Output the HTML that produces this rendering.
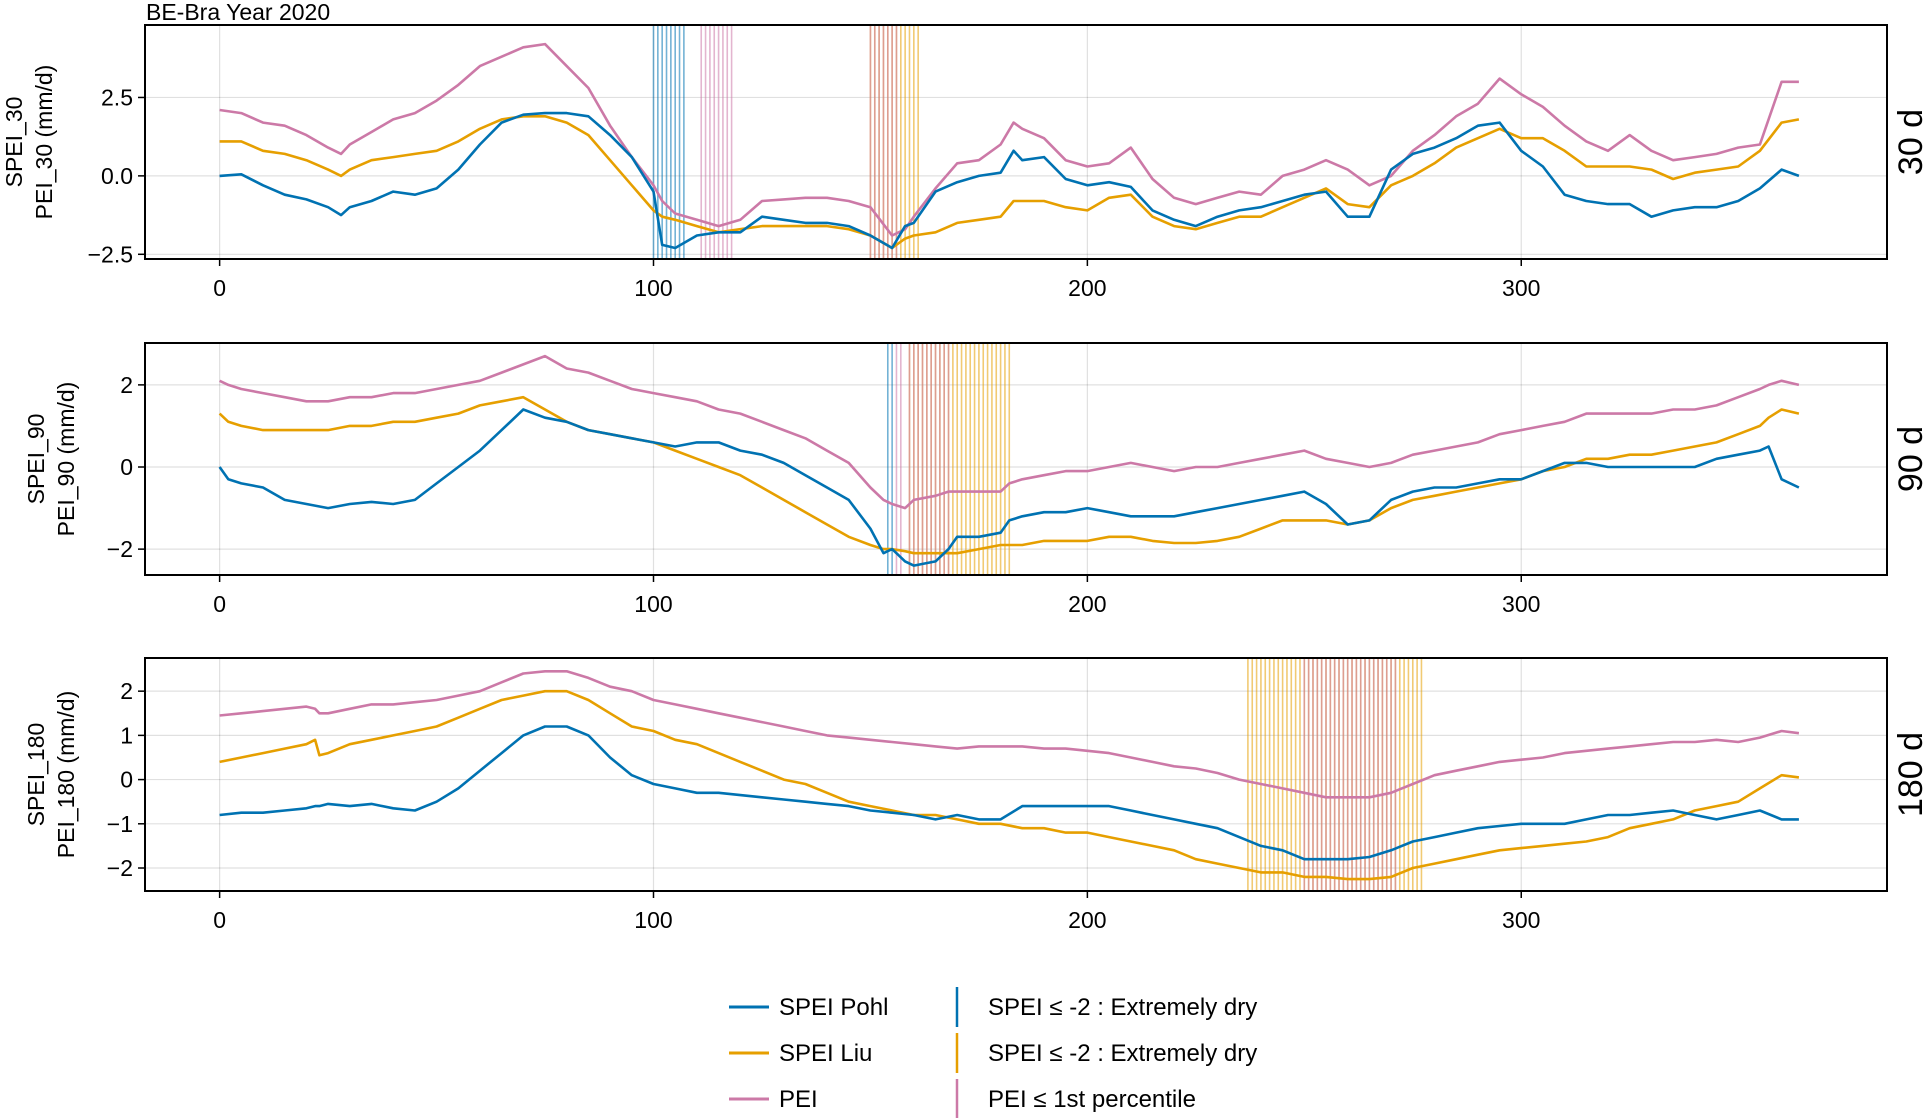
<!DOCTYPE html>
<html><head><meta charset="utf-8"><style>
html,body{margin:0;padding:0;background:#fff;}
svg{display:block;font-family:"Liberation Sans",sans-serif;}
</style></head><body>
<svg id="chart" width="1925" height="1118" viewBox="0 0 1925 1118" xmlns="http://www.w3.org/2000/svg">
<text x="146" y="20" font-size="23">BE-Bra Year 2020</text>
<g id="panels"></g>
<g>
 <line x1="729" x2="769" y1="1007" y2="1007" stroke="#0072b2" stroke-width="3"/>
 <text x="779" y="1015" font-size="24">SPEI Pohl</text>
 <line x1="729" x2="769" y1="1053" y2="1053" stroke="#e69f00" stroke-width="3"/>
 <text x="779" y="1061" font-size="24">SPEI Liu</text>
 <line x1="729" x2="769" y1="1099" y2="1099" stroke="#cc79a7" stroke-width="3"/>
 <text x="779" y="1107" font-size="24">PEI</text>
 <line x1="957" x2="957" y1="987" y2="1027" stroke="#0072b2" stroke-width="2.5"/>
 <text x="988" y="1015" font-size="24">SPEI ≤ -2 : Extremely dry</text>
 <line x1="957" x2="957" y1="1033" y2="1073" stroke="#e69f00" stroke-width="2.5"/>
 <text x="988" y="1061" font-size="24">SPEI ≤ -2 : Extremely dry</text>
 <line x1="957" x2="957" y1="1079" y2="1119" stroke="#cc79a7" stroke-width="2.5"/>
 <text x="988" y="1107" font-size="24">PEI ≤ 1st percentile</text>
</g>
</svg>
<script>
const days1=[0,5,10,15,20,25,28,30,35,40,45,50,55,60,65,70,75,80,85,90,95,100,102,105,110,115,120,125,130,135,140,145,150,155,158,160,165,170,175,180,183,185,190,195,200,205,210,215,220,225,230,235,240,245,250,255,260,265,270,275,280,285,290,295,300,305,310,315,320,325,330,335,340,345,350,355,360,364];
const pohl30=[0,0.05,-0.3,-0.6,-0.75,-1.0,-1.25,-1.0,-0.8,-0.5,-0.6,-0.4,0.2,1.0,1.7,1.95,2.0,2.0,1.9,1.3,0.6,-0.5,-2.2,-2.3,-1.9,-1.8,-1.8,-1.3,-1.4,-1.5,-1.5,-1.6,-1.9,-2.3,-1.6,-1.5,-0.5,-0.2,0,0.1,0.8,0.5,0.6,-0.1,-0.3,-0.2,-0.35,-1.1,-1.4,-1.6,-1.3,-1.1,-1.0,-0.8,-0.6,-0.5,-1.3,-1.3,0.2,0.7,0.9,1.2,1.6,1.7,0.8,0.3,-0.6,-0.8,-0.9,-0.9,-1.3,-1.1,-1.0,-1.0,-0.8,-0.4,0.2,0.0];
const liu30=[1.1,1.1,0.8,0.7,0.5,0.2,0.0,0.2,0.5,0.6,0.7,0.8,1.1,1.5,1.8,1.9,1.9,1.7,1.3,0.5,-0.3,-1.1,-1.3,-1.4,-1.6,-1.8,-1.7,-1.6,-1.6,-1.6,-1.6,-1.7,-1.9,-2.3,-2.0,-1.9,-1.8,-1.5,-1.4,-1.3,-0.8,-0.8,-0.8,-1.0,-1.1,-0.7,-0.6,-1.3,-1.6,-1.7,-1.5,-1.3,-1.3,-1.0,-0.7,-0.4,-0.9,-1.0,-0.3,0.0,0.4,0.9,1.2,1.5,1.2,1.2,0.8,0.3,0.3,0.3,0.2,-0.1,0.1,0.2,0.3,0.8,1.7,1.8];
const pei30=[2.1,2.0,1.7,1.6,1.3,0.9,0.7,1.0,1.4,1.8,2.0,2.4,2.9,3.5,3.8,4.1,4.2,3.5,2.8,1.6,0.6,-0.3,-0.8,-1.2,-1.4,-1.6,-1.4,-0.8,-0.75,-0.7,-0.7,-0.8,-1.0,-1.9,-1.7,-1.3,-0.4,0.4,0.5,1.0,1.7,1.5,1.2,0.5,0.3,0.4,0.9,-0.1,-0.7,-0.9,-0.7,-0.5,-0.6,0.0,0.2,0.5,0.2,-0.3,0.0,0.8,1.3,1.9,2.3,3.1,2.6,2.2,1.6,1.1,0.8,1.3,0.8,0.5,0.6,0.7,0.9,1.0,3.0,3.0];

const days2=[0,2,5,10,15,20,25,30,35,40,45,50,55,60,65,70,75,80,85,90,95,100,105,110,115,120,125,130,135,140,145,150,153,155,158,160,165,168,170,175,180,182,185,190,195,200,205,210,215,220,225,230,235,240,245,250,255,260,265,270,275,280,285,290,295,300,305,310,315,320,325,330,335,340,345,350,355,357,360,364];
const pohl90=[0,-0.3,-0.4,-0.5,-0.8,-0.9,-1.0,-0.9,-0.85,-0.9,-0.8,-0.4,0.0,0.4,0.9,1.4,1.2,1.1,0.9,0.8,0.7,0.6,0.5,0.6,0.6,0.4,0.3,0.1,-0.2,-0.5,-0.8,-1.5,-2.1,-2.0,-2.3,-2.4,-2.3,-2.0,-1.7,-1.7,-1.6,-1.3,-1.2,-1.1,-1.1,-1.0,-1.1,-1.2,-1.2,-1.2,-1.1,-1.0,-0.9,-0.8,-0.7,-0.6,-0.9,-1.4,-1.3,-0.8,-0.6,-0.5,-0.5,-0.4,-0.3,-0.3,-0.1,0.1,0.1,0.0,0.0,0.0,0.0,0.0,0.2,0.3,0.4,0.5,-0.3,-0.5];
const liu90=[1.3,1.1,1.0,0.9,0.9,0.9,0.9,1.0,1.0,1.1,1.1,1.2,1.3,1.5,1.6,1.7,1.4,1.1,0.9,0.8,0.7,0.6,0.4,0.2,0.0,-0.2,-0.5,-0.8,-1.1,-1.4,-1.7,-1.9,-2.0,-2.0,-2.05,-2.1,-2.1,-2.1,-2.1,-2.0,-1.9,-1.9,-1.9,-1.8,-1.8,-1.8,-1.7,-1.7,-1.8,-1.85,-1.85,-1.8,-1.7,-1.5,-1.3,-1.3,-1.3,-1.4,-1.3,-1.0,-0.8,-0.7,-0.6,-0.5,-0.4,-0.3,-0.1,0.0,0.2,0.2,0.3,0.3,0.4,0.5,0.6,0.8,1.0,1.2,1.4,1.3];
const pei90=[2.1,2.0,1.9,1.8,1.7,1.6,1.6,1.7,1.7,1.8,1.8,1.9,2.0,2.1,2.3,2.5,2.7,2.4,2.3,2.1,1.9,1.8,1.7,1.6,1.4,1.3,1.1,0.9,0.7,0.4,0.1,-0.5,-0.8,-0.9,-1.0,-0.8,-0.7,-0.6,-0.6,-0.6,-0.6,-0.4,-0.3,-0.2,-0.1,-0.1,0.0,0.1,0.0,-0.1,0.0,0.0,0.1,0.2,0.3,0.4,0.2,0.1,0.0,0.1,0.3,0.4,0.5,0.6,0.8,0.9,1.0,1.1,1.3,1.3,1.3,1.3,1.4,1.4,1.5,1.7,1.9,2.0,2.1,2.0];

const days3=[0,5,10,15,20,22,23,25,30,35,40,45,50,55,60,65,70,75,80,85,90,95,100,105,110,115,120,125,130,135,140,145,150,155,160,165,170,175,180,185,190,195,200,205,210,215,220,225,230,235,240,245,250,255,260,265,270,275,280,285,290,295,300,305,310,315,320,325,330,335,340,345,350,355,360,364];
const pohl180=[-0.8,-0.75,-0.75,-0.7,-0.65,-0.6,-0.6,-0.55,-0.6,-0.55,-0.65,-0.7,-0.5,-0.2,0.2,0.6,1.0,1.2,1.2,1.0,0.5,0.1,-0.1,-0.2,-0.3,-0.3,-0.35,-0.4,-0.45,-0.5,-0.55,-0.6,-0.7,-0.75,-0.8,-0.9,-0.8,-0.9,-0.9,-0.6,-0.6,-0.6,-0.6,-0.6,-0.7,-0.8,-0.9,-1.0,-1.1,-1.3,-1.5,-1.6,-1.8,-1.8,-1.8,-1.75,-1.6,-1.4,-1.3,-1.2,-1.1,-1.05,-1.0,-1.0,-1.0,-0.9,-0.8,-0.8,-0.75,-0.7,-0.8,-0.9,-0.8,-0.7,-0.9,-0.9];
const liu180=[0.4,0.5,0.6,0.7,0.8,0.9,0.55,0.6,0.8,0.9,1.0,1.1,1.2,1.4,1.6,1.8,1.9,2.0,2.0,1.8,1.5,1.2,1.1,0.9,0.8,0.6,0.4,0.2,0.0,-0.1,-0.3,-0.5,-0.6,-0.7,-0.8,-0.8,-0.9,-1.0,-1.0,-1.1,-1.1,-1.2,-1.2,-1.3,-1.4,-1.5,-1.6,-1.8,-1.9,-2.0,-2.1,-2.1,-2.2,-2.2,-2.25,-2.25,-2.2,-2.0,-1.9,-1.8,-1.7,-1.6,-1.55,-1.5,-1.45,-1.4,-1.3,-1.1,-1.0,-0.9,-0.7,-0.6,-0.5,-0.2,0.1,0.05];
const pei180=[1.45,1.5,1.55,1.6,1.65,1.6,1.5,1.5,1.6,1.7,1.7,1.75,1.8,1.9,2.0,2.2,2.4,2.45,2.45,2.3,2.1,2.0,1.8,1.7,1.6,1.5,1.4,1.3,1.2,1.1,1.0,0.95,0.9,0.85,0.8,0.75,0.7,0.75,0.75,0.75,0.7,0.7,0.65,0.6,0.5,0.4,0.3,0.25,0.15,0.0,-0.1,-0.2,-0.3,-0.4,-0.4,-0.4,-0.3,-0.1,0.1,0.2,0.3,0.4,0.45,0.5,0.6,0.65,0.7,0.75,0.8,0.85,0.85,0.9,0.85,0.95,1.1,1.05];

const pohlDry30=[100,101,102,103,104,105,106,107];
const liuDry30=[150,151,152,153,154,155,156,157,158,159,160,161];
const peiLow30=[111,112,113,114,115,116,117,118,150,151,152,153,154,155,156];
const pohlDry90=[154,155];
const liuDry90=[159,160,161,162,163,164,165,166,167,168,169,170,171,172,173,174,175,176,177,178,179,180,181,182];
const peiLow90=[156,157,159,160,161,162,163,164,165,166,167,168];
const pohlDry180=[];
const liuDry180=[237,238,239,240,241,242,243,244,245,246,247,248,249,250,251,252,253,254,255,256,257,258,259,260,261,262,263,264,265,266,267,268,269,270,271,272,273,274,275,276,277];
const peiLow180=[250,251,252,253,254,255,256,257,258,259,260,261,262,263,264,265,266,267,268,269,270,271];

const xTicks=[0,100,200,300];
const yTicks1=[-2.5,0,2.5], yLabels1=["−2.5","0.0","2.5"];
const yTicks2=[-2,0,2], yLabels2=["−2","0","2"];
const yTicks3=[-2,-1,0,1,2], yLabels3=["−2","−1","0","1","2"];

const NS="http://www.w3.org/2000/svg";
const root=document.getElementById('panels');
const L=145,R=1887,XMIN=-17.2,XMAX=384.3;
function xs(d){return L+(d-XMIN)/(XMAX-XMIN)*(R-L);}
function mk(tag,attrs,parent){const e=document.createElementNS(NS,tag);for(const k in attrs)e.setAttribute(k,attrs[k]);parent.appendChild(e);return e;}

const panels=[
 {id:'30',top:25,bot:259,vmin:-2.65,vmax:4.81,yt:yTicks1,yl:yLabels1,l1:'SPEI_30',l2:'PEI_30 (mm/d)',ax1:22,ax2:52,days:days1,p:pohl30,l:liu30,e:pei30,hp:pohlDry30,hl:liuDry30,he:peiLow30},
 {id:'90',top:343,bot:575,vmin:-2.63,vmax:3.02,yt:yTicks2,yl:yLabels2,l1:'SPEI_90',l2:'PEI_90 (mm/d)',ax1:44,ax2:74,days:days2,p:pohl90,l:liu90,e:pei90,hp:pohlDry90,hl:liuDry90,he:peiLow90},
 {id:'180',top:658,bot:891,vmin:-2.52,vmax:2.75,yt:yTicks3,yl:yLabels3,l1:'SPEI_180',l2:'PEI_180 (mm/d)',ax1:44,ax2:74,days:days3,p:pohl180,l:liu180,e:pei180,hp:pohlDry180,hl:liuDry180,he:peiLow180}
];
panels.forEach(P=>{
 const ys=v=>P.bot-(v-P.vmin)/(P.vmax-P.vmin)*(P.bot-P.top);
 const g=mk('g',{},root);
 
 
 xTicks.forEach(t=>{const ln=mk('line',{x1:xs(t),x2:xs(t),y1:P.top,y2:P.bot,stroke:'#000','stroke-opacity':0.12,'stroke-width':1.2},g);
  
  const tk=mk('line',{x1:xs(t),x2:xs(t),y1:P.bot,y2:P.bot+7,stroke:'#000','stroke-width':1.5},g);
  
  const tx=mk('text',{x:xs(t),y:P.bot+37,'font-size':23,'text-anchor':'middle'},g);tx.textContent=t;
  });
 P.yt.forEach((t,i)=>{const y=ys(t);
  const ln=mk('line',{x1:L,x2:R,y1:y,y2:y,stroke:'#000','stroke-opacity':0.12,'stroke-width':1.2},g);
  
  const tk=mk('line',{x1:L-7,x2:L,y1:y,y2:y,stroke:'#000','stroke-width':1.5},g);
  
  const tx=mk('text',{x:L-12,y:y+8,'font-size':23,'text-anchor':'end'},g);tx.textContent=P.yl[i];
  });
 [[P.hl,'#e69f00'],[P.he,'#cc79a7'],[P.hp,'#0072b2']].forEach(([arr,c])=>arr.forEach(d=>{
  const ln=mk('line',{x1:xs(d),x2:xs(d),y1:P.top,y2:P.bot,stroke:c,'stroke-opacity':0.55,'stroke-width':1.6},g);
  }));
 [[P.l,'#e69f00','liu'],[P.e,'#cc79a7','pei'],[P.p,'#0072b2','pohl']].forEach(([vals,c,n])=>{
  const pts=P.days.map((d,i)=>xs(d).toFixed(1)+','+ys(vals[i]).toFixed(1)).join(' ');
  const pl=mk('polyline',{points:pts,fill:'none',stroke:c,'stroke-width':2.6,'stroke-linejoin':'round'},g);
  });
 const fr=mk('rect',{x:L,y:P.top,width:R-L,height:P.bot-P.top,fill:'none',stroke:'#000','stroke-width':2},g);
 
 const cy=(P.top+P.bot)/2;
 const t1=mk('text',{transform:`translate(${P.ax1},${cy}) rotate(-90)`,'font-size':23,'text-anchor':'middle'},g);t1.textContent=P.l1;
 
 const t2=mk('text',{transform:`translate(${P.ax2},${cy}) rotate(-90)`,'font-size':23,'text-anchor':'middle'},g);t2.textContent=P.l2;
 
 const rl=mk('text',{transform:`translate(1922,${cy}) rotate(-90)`,'font-size':34,'text-anchor':'middle'},g);rl.textContent=P.id+' d';
 
});
</script>
</body></html>
